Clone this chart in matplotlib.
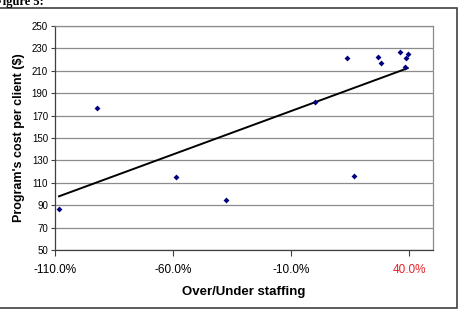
import numpy as np
import matplotlib
matplotlib.use("Agg")
import matplotlib.pyplot as plt
from matplotlib.patches import Rectangle
from matplotlib.ticker import FuncFormatter

# Data
staffing = [-1.083, -0.922, -0.587, -0.375, 0.000, 0.136, 0.164, 0.269, 0.278, 0.361, 0.393, 0.386, 0.380]
cost = [87, 177, 115, 95, 182, 221, 116, 222, 217, 227, 225, 221, 213]
x_ticks = [-1.1, -0.6, -0.1, 0.4]
y_ticks = list(range(50, 251, 20))

plt.rcParams['font.family'] = ['Liberation Sans', 'DejaVu Sans']

fig = plt.figure(figsize=(4.61, 3.11), dpi=100)
ax = fig.add_axes([55/461, 1-250/311, (433-55)/461, (250-26)/311])

# outer frame
fig.patches.append(Rectangle((-0.01, 1-308/311), (457/461)+0.01, (308-8)/311,
                             transform=fig.transFigure, fill=False,
                             edgecolor='#404040', linewidth=1.2))
fig.text(-0.010, 1.012, "Figure 5:", family='Liberation Serif', fontweight='bold',
         fontsize=9, ha='left', va='top')

x = np.array(staffing)
y = np.array(cost)
ax.scatter(x, y, marker='D', s=9, color='#000080', zorder=3, linewidths=0)
m, b = np.polyfit(x, y, 1)
xs = np.array([x.min(), x.max()])
ax.plot(xs, m*xs + b, color='black', linewidth=1.4, zorder=2)

ax.set_xlim(-1.1, 0.5)
ax.set_ylim(50, 250)
ax.set_xticks(x_ticks)
ax.set_yticks(y_ticks)
ax.xaxis.set_major_formatter(FuncFormatter(lambda v, p: f"{v*100:.1f}%"))
ax.yaxis.grid(True, color='#8c8c8c', linewidth=0.9)
ax.set_axisbelow(True)
for s in ['top', 'right']:
    ax.spines[s].set_color('#8c8c8c')
    ax.spines[s].set_linewidth(0.9)
for s in ['left', 'bottom']:
    ax.spines[s].set_color('#404040')
    ax.spines[s].set_linewidth(0.9)
ax.tick_params(axis='y', labelsize=7, length=3, width=0.8, color='#404040', pad=2)
ax.tick_params(axis='x', labelsize=8.5, length=4, width=0.8, color='#404040', pad=6)
ax.get_xticklabels()[-1].set_color('#e8202a')
ax.set_xlabel("Over/Under staffing", fontsize=9.5, fontweight='bold', labelpad=7)
ax.set_ylabel("Program's cost per client ($)", fontsize=9, fontweight='bold', labelpad=5)

fig.savefig("out.png", dpi=100)
